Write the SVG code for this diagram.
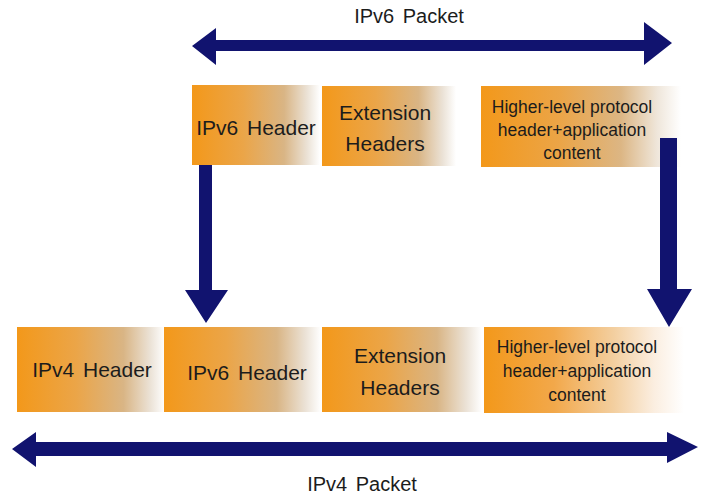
<svg xmlns="http://www.w3.org/2000/svg" width="701" height="496" viewBox="0 0 701 496">
  <style>
    .lbl { font-family: "Liberation Sans", Arial, sans-serif; fill: #1c1c1c; text-anchor: middle; }
    .big { font-size: 21px; word-spacing: 3px; }
    .small { font-size: 17.5px; }
    .arrow { fill: #11136f; }
  </style>
  <defs>
    <!-- header blocks: orange fading to beige then white -->
    <linearGradient id="hdr" x1="0" y1="0" x2="1" y2="0">
      <stop offset="0" stop-color="#f3981a"/>
      <stop offset="0.4" stop-color="#eba548"/>
      <stop offset="0.72" stop-color="#d9b585"/>
      <stop offset="0.9" stop-color="#ebe2d6"/>
      <stop offset="1" stop-color="#ffffff"/>
    </linearGradient>
    <!-- payload block: orange fading straight to white -->
    <linearGradient id="payload" x1="0" y1="0" x2="1" y2="0">
      <stop offset="0" stop-color="#f3981a"/>
      <stop offset="0.35" stop-color="#f2a84a"/>
      <stop offset="0.65" stop-color="#f3cfa0"/>
      <stop offset="0.85" stop-color="#fbeee0"/>
      <stop offset="1" stop-color="#ffffff"/>
    </linearGradient>
    <linearGradient id="payloadTop" x1="0" y1="0" x2="1" y2="0">
      <stop offset="0" stop-color="#f3981a"/>
      <stop offset="0.4" stop-color="#eba548"/>
      <stop offset="0.7" stop-color="#dcb684"/>
      <stop offset="0.88" stop-color="#efe6da"/>
      <stop offset="1" stop-color="#ffffff"/>
    </linearGradient>
  </defs>

  <rect width="701" height="496" fill="#ffffff"/>

  <!-- IPv6 packet (top row) -->
  <g id="top-ipv6-header">
    <rect x="192" y="85" width="128" height="80" fill="url(#hdr)"/>
    <text class="lbl big" x="256" y="135">IPv6 Header</text>
  </g>
  <g id="top-extension-headers">
    <rect x="322" y="86" width="134" height="80" fill="url(#hdr)"/>
    <text class="lbl big" x="385" y="120">Extension</text>
    <text class="lbl big" x="385" y="151">Headers</text>
  </g>
  <g id="top-payload">
    <rect x="481" y="86" width="200" height="81" fill="url(#payloadTop)"/>
    <text class="lbl small" x="572" y="113">Higher-level protocol</text>
    <text class="lbl small" x="572" y="136">header+application</text>
    <text class="lbl small" x="572" y="159">content</text>
  </g>

  <!-- IPv4 packet (bottom row) -->
  <g id="bottom-ipv4-header">
    <rect x="17" y="327" width="148" height="85" fill="url(#hdr)"/>
    <text class="lbl big" x="92" y="377">IPv4 Header</text>
  </g>
  <g id="bottom-ipv6-header">
    <rect x="164" y="327" width="157" height="85" fill="url(#hdr)"/>
    <text class="lbl big" x="247" y="380">IPv6 Header</text>
  </g>
  <g id="bottom-extension-headers">
    <rect x="322" y="327" width="160" height="85" fill="url(#hdr)"/>
    <text class="lbl big" x="400" y="363">Extension</text>
    <text class="lbl big" x="400" y="395">Headers</text>
  </g>
  <g id="bottom-payload">
    <rect x="484" y="327" width="200" height="86" fill="url(#payload)"/>
    <text class="lbl small" x="577" y="353">Higher-level protocol</text>
    <text class="lbl small" x="577" y="377">header+application</text>
    <text class="lbl small" x="577" y="401">content</text>
  </g>

  <!-- span labels -->
  <g id="label-ipv6-packet">
    <text class="lbl" x="409" y="23" font-size="20" word-spacing="3">IPv6 Packet</text>
  </g>
  <g id="label-ipv4-packet">
    <text class="lbl" x="362" y="491" font-size="20" word-spacing="3">IPv4 Packet</text>
  </g>

  <g id="connectors">
    <!-- IPv6 packet span -->
    <path class="arrow" d="M192,46 L216,28 L216,40 L644,40 L644,22 L672,43 L644,65 L644,51 L216,51 L216,65 Z"/>
    <!-- IPv6 header moves down -->
    <path class="arrow" d="M199,165 L212,165 L212,290 L228,290 L206,323 L185,290 L199,290 Z"/>
    <!-- payload moves down -->
    <path class="arrow" d="M660,138 L677,138 L677,289 L692,289 L669,327 L647,289 L660,289 Z"/>
    <!-- IPv4 packet span -->
    <path class="arrow" d="M12,449 L36,432 L36,442 L667,442 L667,432 L698,447 L667,463 L667,456 L36,456 L36,467 Z"/>
  </g>
</svg>
